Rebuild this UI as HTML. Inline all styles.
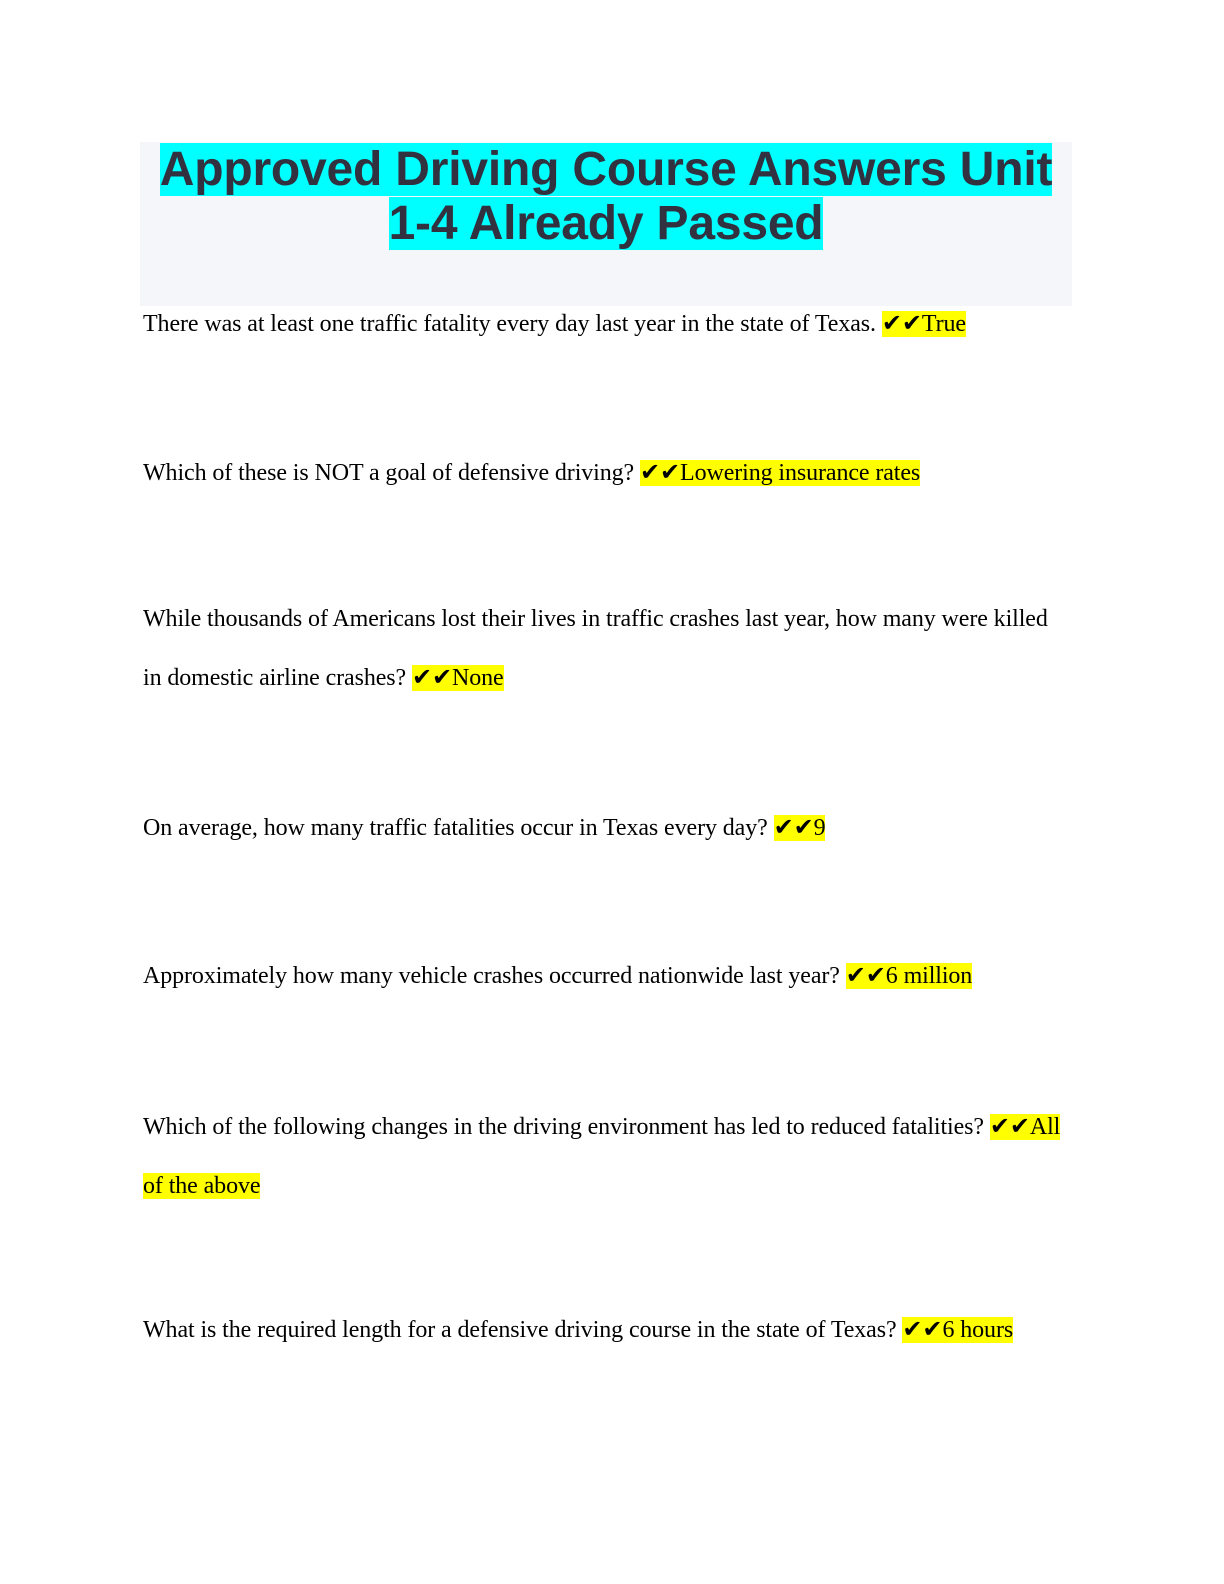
<!DOCTYPE html>
<html><head><meta charset="utf-8"><style>
body{margin:0;width:1224px;height:1584px;background:#fff;position:relative;overflow:hidden}
.tb{position:absolute;left:140px;top:142px;width:932px;height:164px;background:#f5f6fa}
.t{position:absolute;left:0;width:1212px;text-align:center;font:bold 48px/54px "Liberation Sans",sans-serif;color:#31313f;letter-spacing:-0.2px}
.t span{background:#00ffff}
.l{position:absolute;left:143px;font:24px/28px "Liberation Serif",serif;color:#000;white-space:nowrap;letter-spacing:-0.1px}
.h{background:#ffff00}
</style></head><body>
<div class="tb"></div>
<div class="t" style="top:143px"><span>Approved Driving Course Answers Unit</span></div>
<div class="t" style="top:197px"><span>1-4 Already Passed</span></div>
<div class="l" style="top:310px">There was at least one traffic fatality every day last year in the state of Texas. <span class="h">✔✔True</span></div>
<div class="l" style="top:459px">Which of these is NOT a goal of defensive driving? <span class="h">✔✔Lowering insurance rates</span></div>
<div class="l" style="top:605px">While thousands of Americans lost their lives in traffic crashes last year, how many were killed</div>
<div class="l" style="top:664px">in domestic airline crashes? <span class="h">✔✔None</span></div>
<div class="l" style="top:814px">On average, how many traffic fatalities occur in Texas every day? <span class="h">✔✔9</span></div>
<div class="l" style="top:962px">Approximately how many vehicle crashes occurred nationwide last year? <span class="h">✔✔6 million</span></div>
<div class="l" style="top:1113px">Which of the following changes in the driving environment has led to reduced fatalities? <span class="h">✔✔All</span></div>
<div class="l" style="top:1172px"><span class="h">of the above</span></div>
<div class="l" style="top:1316px">What is the required length for a defensive driving course in the state of Texas? <span class="h">✔✔6 hours</span></div>
</body></html>
